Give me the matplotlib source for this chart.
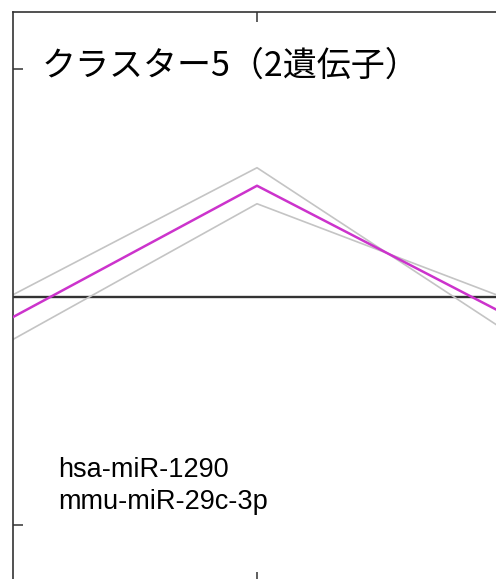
import matplotlib
matplotlib.use("Agg")
import matplotlib.pyplot as plt

# time points (x positions of the profile)
x_points = [0, 1, 2]

# individual gene profiles (grey)
gene_names = ["hsa-miR-1290", "mmu-miR-29c-3p"]
gene_a = [0.01, 0.567, -0.135]
gene_b = [-0.186, 0.409, 0.002]

# cluster mean (magenta)
cluster_mean = [-0.088, 0.488, -0.066]

title_text = "クラスター5（2遺伝子）"

W, H = 496, 579
fig = plt.figure(figsize=(W / 100, H / 100), dpi=100)
fig.patch.set_facecolor("white")

# axes runs a few pixels past the right and bottom edge of the figure
left, top = 13, 12
width, height = 488, 570
ax = fig.add_axes([left / W, 1 - (top + height) / H, width / W, height / H])

for vals in (gene_a, gene_b):
    ax.plot(x_points, vals, color="#c4c4c4", lw=1.2, zorder=2)
ax.plot(x_points, cluster_mean, color="#cc33cc", lw=1.8, zorder=3)
ax.axhline(0, color="#333333", lw=1.7, zorder=1)

ax.set_xlim(0, 2)
ax.set_ylim(-1.25, 1.25)
ax.set_xticks([1])
ax.set_yticks([-1, 1])
ax.tick_params(direction="in", length=7, width=1.1, color="#333333",
               labelleft=False, labelbottom=False, top=True, right=False)
for sp in ax.spines.values():
    sp.set_color("#333333")
    sp.set_linewidth(1.2)

ax.text(42 / W, 1 - 76 / H, title_text, transform=fig.transFigure,
        fontsize=24.5, family=["Noto Sans CJK JP", "DejaVu Sans"],
        color="black", va="baseline", ha="left")

ax.text(58 / W, 1 - 509 / H, "\n".join(gene_names), transform=fig.transFigure,
        fontsize=19.5, family="Liberation Sans", color="black",
        va="baseline", ha="left", linespacing=1.32)

fig.savefig("out.png", dpi=100)
